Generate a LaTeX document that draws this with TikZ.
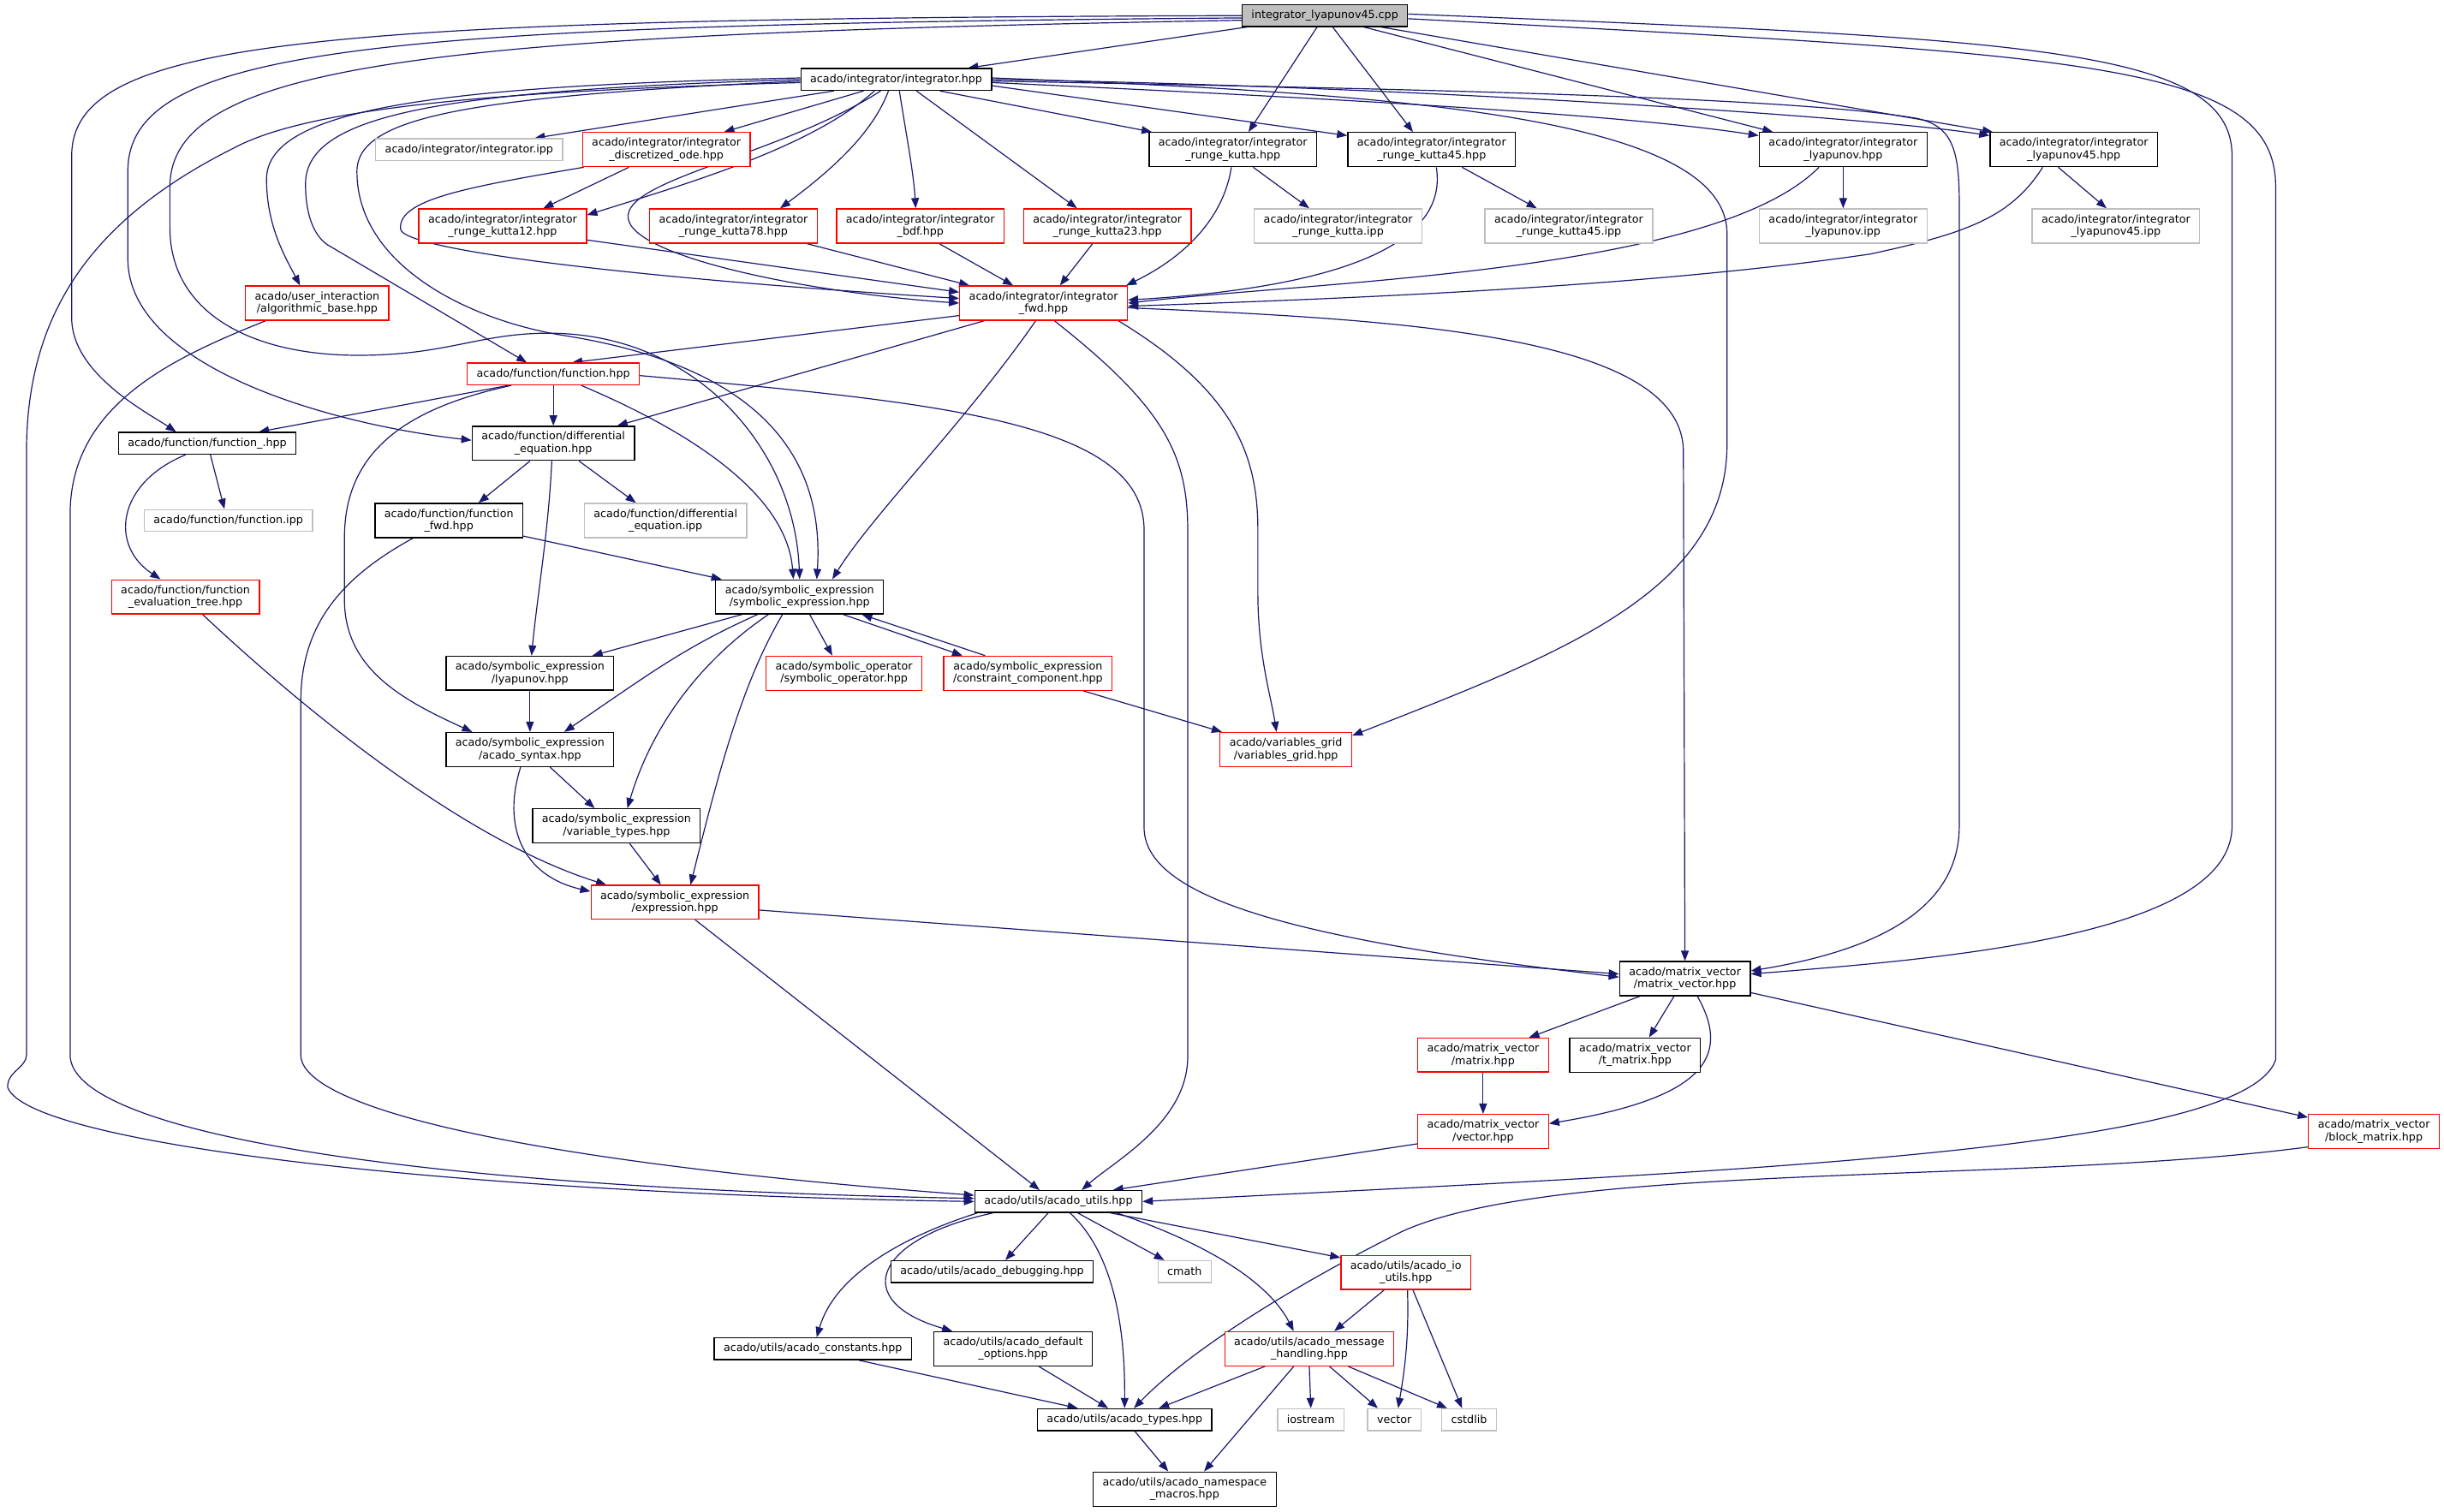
\documentclass[tikz,border=0pt]{standalone}
\usepackage{fontspec}
\setmainfont{DejaVu Sans}
\usetikzlibrary{arrows.meta,calc,backgrounds}
\definecolor{edgeblue}{HTML}{191970}
\definecolor{sysgray}{HTML}{BFBFBF}

\begin{document}
\begin{tikzpicture}[x=1.82pt, y=-1.82pt, >={Triangle[length=12pt,width=9pt]},
  box/.style={draw, fill=white, line width=1.3pt, align=center, inner xsep=11pt, inner ysep=6.4pt,
    minimum height=25.5pt, font=\fontsize{12.7}{14.5}\selectfont},
  plain/.style={box, draw=black},
  trunc/.style={box, draw=red},
  sys/.style={box, draw=sysgray},
  main/.style={box, draw=black, fill=sysgray},
  inc/.style={->, draw=edgeblue, line width=1.2pt}]
  \useasboundingbox (0,0) rectangle (1568,970);

  % files, top to bottom
  \node[main] (cpp) at (850,10) {integrator\_lyapunov45.cpp};
  \node[plain] (integ) at (575,51) {acado/integrator/integrator.hpp};
  \node[sys] (intipp) at (301,96) {acado/integrator/integrator.ipp};
  \node[trunc] (disc) at (427.5,96) {acado/integrator/integrator\\\_discretized\_ode.hpp};
  \node[plain] (rk) at (791,96) {acado/integrator/integrator\\\_runge\_kutta.hpp};
  \node[plain] (rkff) at (918.5,96) {acado/integrator/integrator\\\_runge\_kutta45.hpp};
  \node[plain] (lyap) at (1182.5,96) {acado/integrator/integrator\\\_lyapunov.hpp};
  \node[plain] (lyapff) at (1330.5,96) {acado/integrator/integrator\\\_lyapunov45.hpp};
  \node[trunc] (rkot) at (322.5,145) {acado/integrator/integrator\\\_runge\_kutta12.hpp};
  \node[trunc] (rkse) at (470.5,145) {acado/integrator/integrator\\\_runge\_kutta78.hpp};
  \node[trunc] (bdf) at (590.5,145) {acado/integrator/integrator\\\_bdf.hpp};
  \node[trunc] (rktt) at (710.5,145) {acado/integrator/integrator\\\_runge\_kutta23.hpp};
  \node[sys] (rkipp) at (858.5,145) {acado/integrator/integrator\\\_runge\_kutta.ipp};
  \node[sys] (rkffipp) at (1006.5,145) {acado/integrator/integrator\\\_runge\_kutta45.ipp};
  \node[sys] (lyapipp) at (1182.5,145) {acado/integrator/integrator\\\_lyapunov.ipp};
  \node[sys] (lyapffipp) at (1357.5,145) {acado/integrator/integrator\\\_lyapunov45.ipp};
  \node[trunc] (algo) at (203.5,194.5) {acado/user\_interaction\\/algorithmic\_base.hpp};
  \node[trunc] (fwd) at (669.5,194.5) {acado/integrator/integrator\\\_fwd.hpp};
  \node[trunc] (func) at (355,240) {acado/function/function.hpp};
  \node[plain] (funcu) at (133,284.5) {acado/function/function\_.hpp};
  \node[plain] (diffeq) at (355,284.5) {acado/function/differential\\\_equation.hpp};
  \node[sys] (funcipp) at (146.5,334) {acado/function/function.ipp};
  \node[plain] (funcfwd) at (288,334) {acado/function/function\\\_fwd.hpp};
  \node[sys] (diffipp) at (427,334) {acado/function/differential\\\_equation.ipp};
  \node[trunc] (evaltree) at (119,383) {acado/function/function\\\_evaluation\_tree.hpp};
  \node[plain] (symexpr) at (513,383) {acado/symbolic\_expression\\/symbolic\_expression.hpp};
  \node[plain] (symlyap) at (340,432) {acado/symbolic\_expression\\/lyapunov.hpp};
  \node[trunc] (symop) at (541.5,432) {acado/symbolic\_operator\\/symbolic\_operator.hpp};
  \node[trunc] (constr) at (659.5,432) {acado/symbolic\_expression\\/constraint\_component.hpp};
  \node[plain] (syntax) at (340,481) {acado/symbolic\_expression\\/acado\_syntax.hpp};
  \node[trunc] (vgrid) at (825,481) {acado/variables\_grid\\/variables\_grid.hpp};
  \node[plain] (vartypes) at (395.5,530) {acado/symbolic\_expression\\/variable\_types.hpp};
  \node[trunc] (expr) at (433,579) {acado/symbolic\_expression\\/expression.hpp};
  \node[plain] (mv) at (1081,628) {acado/matrix\_vector\\/matrix\_vector.hpp};
  \node[trunc] (matrix) at (951.5,677) {acado/matrix\_vector\\/matrix.hpp};
  \node[plain] (tmatrix) at (1049,677) {acado/matrix\_vector\\/t\_matrix.hpp};
  \node[trunc] (vec) at (951.5,726) {acado/matrix\_vector\\/vector.hpp};
  \node[trunc] (block) at (1523,726) {acado/matrix\_vector\\/block\_matrix.hpp};
  \node[plain] (utils) at (679,771) {acado/utils/acado\_utils.hpp};
  \node[plain] (debug) at (636.5,816) {acado/utils/acado\_debugging.hpp};
  \node[sys] (stdmath) at (760,816) {cmath};
  \node[trunc] (io) at (902,816.5) {acado/utils/acado\_io\\\_utils.hpp};
  \node[plain] (consts) at (521.5,865.5) {acado/utils/acado\_constants.hpp};
  \node[plain] (defopt) at (650,865.5) {acado/utils/acado\_default\\\_options.hpp};
  \node[trunc] (msg) at (840,865.5) {acado/utils/acado\_message\\\_handling.hpp};
  \node[plain] (types) at (721.5,911) {acado/utils/acado\_types.hpp};
  \node[sys] (stdio) at (841,911) {iostream};
  \node[sys] (stdvec) at (894.5,911) {vector};
  \node[sys] (stdlib) at (942.5,911) {cstdlib};
  \node[plain] (macros) at (760,955.5) {acado/utils/acado\_namespace\\\_macros.hpp};

  \begin{scope}[on background layer]
  \fill[white] (0,0) rectangle (1568,970);
  % from the source file
  \draw[inc] ($(cpp.south)+(-50,0)$) -- ($(integ.north)+(46,0)$);
  \draw[inc] ($(cpp.south)+(-5,0)$) -- ($(rk.north)+(10,0)$);
  \draw[inc] ($(cpp.south)+(5,0)$) -- ($(rkff.north)+(-12,0)$);
  \draw[inc] ($(cpp.south)+(25,0)$) -- ($(lyap.north)+(-45,0)$);
  \draw[inc] ($(cpp.south)+(36,0)$) -- ($(lyapff.north)+(-52,0)$);
  \draw[inc] (cpp.west) .. controls (200,12) and (46,25) .. (46,100) -- (46,204) .. controls (46,240) and (95,265) .. ($(funcu.north)+(-20,0)$);
  \draw[inc] ($(cpp.west)+(0,1.5)$) .. controls (240,16) and (82,30) .. (82,110) -- (82,166) .. controls (82,235) and (210,272) .. ($(diffeq.west)+(0,-2)$);
  \draw[inc] ($(cpp.west)+(0,3)$) .. controls (280,22) and (109,40) .. (109,120) -- (109,146) .. controls (109,200) and (160,228) .. (230,228) .. controls (290,228) and (310,212) .. (360,214) .. controls (450,218) and (510,290) .. (symexpr.north);
  \draw[inc] ($(cpp.east)+(0,-1)$) .. controls (1300,25) and (1432,30) .. (1432,100) -- (1432,530) .. controls (1432,600) and (1250,615) .. ($(mv.east)+(0,-3)$);
  \draw[inc] ($(cpp.east)+(0,2)$) .. controls (1340,35) and (1460,40) .. (1460,120) -- (1460,680) .. controls (1440,740) and (1100,752) .. (utils.east);
  % from integrator.hpp
  \draw[inc] ($(integ.south)+(-40,0)$) -- ($(intipp.north)+(42,0)$);
  \draw[inc] ($(integ.south)+(-21,0)$) -- ($(disc.north)+(37,0)$);
  \draw[inc] ($(integ.south)+(-14,0)$) .. controls (520,95) and (440,118) .. ($(rkot.east)+(0,-7)$);
  \draw[inc] ($(integ.south)+(-10,0)$) .. controls (500,100) and (400,115) .. (403,140) .. controls (406,165) and (520,188) .. (fwd.west);
  \draw[inc] ($(integ.south)+(-5,0)$) .. controls (560,85) and (535,108) .. ($(rkse.north)+(30,0)$);
  \draw[inc] ($(integ.south)+(2,0)$) .. controls (582,90) and (586,110) .. ($(bdf.north)+(-3,0)$);
  \draw[inc] ($(integ.south)+(13,0)$) -- ($(rktt.north)+(-19.5,0)$);
  \draw[inc] ($(integ.south)+(28,0)$) -- ($(rk.north)+(-52,0)$);
  \draw[inc] ($(integ.east)+(0,4)$) -- ($(rkff.west)+(0,-9)$);
  \draw[inc] ($(integ.east)+(0,2)$) .. controls (900,65) and (1050,75) .. ($(lyap.west)+(0,-9)$);
  \draw[inc] (integ.east) .. controls (900,55) and (1200,75) .. ($(lyapff.west)+(0,-9)$);
  \draw[inc] ($(integ.east)+(0,-1)$) .. controls (900,60) and (1108,75) .. (1108,150) -- (1108,285) .. controls (1108,380) and (1000,420) .. ($(vgrid.east)+(0,-9)$);
  \draw[inc] ($(integ.east)+(0,1)$) .. controls (900,57) and (1150,62) .. (1230,76) .. controls (1252,81) and (1257,95) .. (1257,130) -- (1257,530) .. controls (1257,590) and (1190,612) .. ($(mv.east)+(0,-5)$);
  \draw[inc] ($(integ.west)+(0,-1)$) .. controls (280,55) and (171,70) .. (171,115) .. controls (171,145) and (183,165) .. ($(algo.north)+(-11,0)$);
  \draw[inc] (integ.west) .. controls (290,58) and (196,72) .. (196,118) .. controls (196,135) and (200,150) .. (210,157) -- ($(func.north)+(-17,0)$);
  \draw[inc] ($(integ.west)+(0,1)$) .. controls (300,62) and (229,75) .. (229,110) .. controls (229,170) and (300,205) .. (360,215) .. controls (470,232) and (530,280) .. ($(symexpr.north)+(11,0)$);
  \draw[inc] ($(integ.west)+(0,2)$) .. controls (330,58) and (200,68) .. (150,95) .. controls (60,140) and (17,200) .. (17,290) -- (17,677) .. controls (17,685) and (4,688) .. (5,698) .. controls (20,735) and (300,766) .. (utils.west);
  % into integrator_fwd.hpp
  \draw[inc] ($(disc.south)+(-53,0)$) .. controls (300,120) and (255,128) .. (257,147) .. controls (258,160) and (400,178) .. ($(fwd.west)+(0,-3)$);
  \draw[inc] ($(disc.south)+(-24,0)$) -- ($(rkot.north)+(26,0)$);
  \draw[inc] ($(rkot.east)+(0,9)$) -- ($(fwd.west)+(0,-7)$);
  \draw[inc] ($(rkse.south)+(47,0)$) -- ($(fwd.north)+(-47.5,0)$);
  \draw[inc] ($(bdf.south)+(12,0)$) -- ($(fwd.north)+(-19.5,0)$);
  \draw[inc] ($(rktt.south)+(-9.5,0)$) -- ($(fwd.north)+(10.5,0)$);
  \draw[inc] ($(rk.south)+(-1,0)$) .. controls (785,140) and (760,165) .. ($(fwd.north)+(53,0)$);
  \draw[inc] ($(rk.south)+(13,0)$) -- ($(rkipp.north)+(-18.5,0)$);
  \draw[inc] ($(rkff.south)+(3,0)$) .. controls (930,160) and (850,185) .. ($(fwd.east)+(0,-2)$);
  \draw[inc] ($(rkff.south)+(19.5,0)$) -- ($(rkffipp.north)+(-20.5,0)$);
  \draw[inc] ($(lyap.south)+(-15.5,0)$) .. controls (1100,175) and (850,180) .. (fwd.east);
  \draw[inc] (lyap.south) -- (lyapipp.north);
  \draw[inc] ($(lyapff.south)+(-20,0)$) .. controls (1290,140) and (1260,150) .. (1200,163) .. controls (1050,185) and (850,192) .. ($(fwd.east)+(0,2)$);
  \draw[inc] ($(lyapff.south)+(-10,0)$) -- ($(lyapffipp.north)+(-6,0)$);
  % from integrator_fwd.hpp
  \draw[inc] ($(fwd.west)+(0,8)$) -- ($(func.north)+(12,0)$);
  \draw[inc] ($(fwd.south)+(-38,0)$) -- ($(diffeq.north)+(41,0)$);
  \draw[inc] ($(fwd.south)+(-5,0)$) .. controls (620,270) and (560,330) .. ($(symexpr.north)+(21,0)$);
  \draw[inc] ($(fwd.south)+(7,0)$) .. controls (745,260) and (762,290) .. (762,340) -- (762,678) .. controls (762,720) and (715,745) .. ($(utils.north)+(15,0)$);
  \draw[inc] ($(fwd.south)+(48,0)$) .. controls (790,250) and (807,290) .. (807,340) -- (807,380) .. controls (807,420) and (815,445) .. ($(vgrid.north)+(-6,0)$);
  \draw[inc] ($(fwd.east)+(0,3)$) .. controls (900,205) and (1080,215) .. (1080,290) -- (mv.north);
  % left side
  \draw[inc] ($(algo.south)+(-33,0)$) .. controls (110,230) and (45,260) .. (45,330) -- (45,677) .. controls (45,725) and (250,762) .. ($(utils.west)+(0,-2)$);
  \draw[inc] ($(funcfwd.south)+(-23,0)$) .. controls (220,370) and (193,400) .. (193,450) -- (193,677) .. controls (193,710) and (330,745) .. ($(utils.west)+(0,-4)$);
  \draw[inc] ($(func.south)+(-29,0)$) -- ($(funcu.north)+(33,0)$);
  \draw[inc] (func.south) -- (diffeq.north);
  \draw[inc] ($(func.south)+(18,0)$) .. controls (450,280) and (505,320) .. ($(symexpr.north)+(-4,0)$);
  \draw[inc] ($(func.south)+(-27,0)$) .. controls (260,262) and (221,290) .. (221,345) -- (221,385) .. controls (221,430) and (260,450) .. ($(syntax.north)+(-37,0)$);
  \draw[inc] ($(func.east)+(0,1)$) .. controls (600,258) and (734,270) .. (734,340) -- (734,531) .. controls (734,580) and (850,605) .. ($(mv.west)+(0,-1)$);
  \draw[inc] ($(funcu.south)+(2,0)$) -- ($(funcipp.north)+(-2.5,0)$);
  \draw[inc] ($(funcu.south)+(-14,0)$) .. controls (75,310) and (70,350) .. ($(evaltree.north)+(-16,0)$);
  \draw[inc] ($(evaltree.south)+(11,0)$) .. controls (200,460) and (300,540) .. ($(expr.north)+(-44,0)$);
  \draw[inc] ($(diffeq.south)+(-15,0)$) -- ($(funcfwd.north)+(19,0)$);
  \draw[inc] ($(diffeq.south)+(16.5,0)$) -- ($(diffipp.north)+(-19,0)$);
  \draw[inc] ($(diffeq.south)+(-1,0)$) .. controls (352,340) and (345,380) .. ($(symlyap.north)+(1,0)$);
  \draw[inc] ($(funcfwd.east)+(0,10)$) -- ($(symexpr.north)+(-50,0)$);
  % symbolic expressions
  \draw[inc] ($(symexpr.south)+(-37,0)$) -- ($(symlyap.north)+(40,0)$);
  \draw[inc] ($(symexpr.south)+(-27,0)$) .. controls (440,415) and (420,430) .. ($(syntax.north)+(22,0)$);
  \draw[inc] ($(symexpr.south)+(-20,0)$) .. controls (455,420) and (420,460) .. ($(vartypes.north)+(7,0)$);
  \draw[inc] ($(symexpr.south)+(-11,0)$) .. controls (475,440) and (460,500) .. ($(expr.north)+(10,0)$);
  \draw[inc] ($(symexpr.south)+(6.5,0)$) -- ($(symop.north)+(-7.5,0)$);
  \draw[inc] ($(symexpr.south)+(28,0)$) -- ($(constr.north)+(-42,0)$);
  \draw[inc] ($(constr.north)+(-27.5,0)$) -- ($(symexpr.south)+(40,0)$);
  \draw[inc] ($(constr.south)+(35.5,0)$) -- ($(vgrid.north)+(-41,0)$);
  \draw[inc] (symlyap.south) -- (syntax.north);
  \draw[inc] ($(syntax.south)+(13,0)$) -- ($(vartypes.north)+(-14,0)$);
  \draw[inc] ($(syntax.south)+(-6,0)$) .. controls (322,530) and (335,562) .. ($(expr.west)+(0,-7)$);
  \draw[inc] ($(vartypes.south)+(8.5,0)$) -- ($(expr.north)+(-9,0)$);
  \draw[inc] ($(expr.east)+(0,5)$) -- ($(mv.west)+(0,-3)$);
  \draw[inc] ($(expr.south)+(13,0)$) -- ($(utils.north)+(-12,0)$);
  % matrices and vectors
  \draw[inc] ($(mv.south)+(-29,0)$) -- ($(matrix.north)+(29.5,0)$);
  \draw[inc] ($(mv.south)+(-7,0)$) -- ($(tmatrix.north)+(9,0)$);
  \draw[inc] ($(mv.south)+(8,0)$) .. controls (1112,680) and (1090,705) .. ($(vec.east)+(0,-5)$);
  \draw[inc] ($(mv.east)+(0,9)$) -- ($(block.west)+(0,-9)$);
  \draw[inc] (matrix.south) -- (vec.north);
  \draw[inc] ($(vec.west)+(0,8)$) -- ($(utils.north)+(35,0)$);
  \draw[inc] ($(block.west)+(0,10)$) .. controls (1300,760) and (1000,745) .. (900,790) .. controls (820,830) and (760,870) .. ($(types.north)+(6,0)$);
  % utils
  \draw[inc] ($(utils.south)+(-52,0)$) .. controls (575,795) and (535,820) .. ($(consts.north)+(2.5,0)$);
  \draw[inc] ($(utils.south)+(-42,0)$) .. controls (560,795) and (545,835) .. ($(defopt.north)+(-39,0)$);
  \draw[inc] ($(utils.south)+(-6.5,0)$) -- ($(debug.north)+(8.5,0)$);
  \draw[inc] ($(utils.south)+(7.5,0)$) .. controls (710,800) and (722,840) .. (types.north);
  \draw[inc] ($(utils.south)+(12.5,0)$) -- ($(stdmath.north)+(-13,0)$);
  \draw[inc] ($(utils.south)+(33.5,0)$) -- ($(io.west)+(0,-9.5)$);
  \draw[inc] ($(utils.south)+(37.5,0)$) .. controls (780,800) and (815,825) .. ($(msg.north)+(-10,0)$);
  \draw[inc] ($(io.south)+(-14,0)$) -- ($(msg.north)+(16,0)$);
  \draw[inc] ($(io.south)+(1,0)$) .. controls (904,860) and (901,880) .. ($(stdvec.north)+(2.5,0)$);
  \draw[inc] ($(io.south)+(4.5,0)$) -- ($(stdlib.north)+(-4.5,0)$);
  \draw[inc] ($(msg.south)+(-28.5,0)$) -- ($(types.north)+(22,0)$);
  \draw[inc] (msg.south) -- (stdio.north);
  \draw[inc] ($(msg.south)+(13,0)$) -- ($(stdvec.north)+(-10.5,0)$);
  \draw[inc] ($(msg.south)+(25,0)$) -- ($(stdlib.north)+(-14,0)$);
  \draw[inc] ($(msg.south)+(-10,0)$) -- ($(macros.north)+(12.5,0)$);
  \draw[inc] ($(consts.south)+(29.5,0)$) -- ($(types.north)+(-30,0)$);
  \draw[inc] ($(defopt.south)+(16.5,0)$) -- ($(types.north)+(-10.5,0)$);
  \draw[inc] ($(types.south)+(6.5,0)$) -- ($(macros.north)+(-10.5,0)$);
  \end{scope}
\end{tikzpicture}
\end{document}
